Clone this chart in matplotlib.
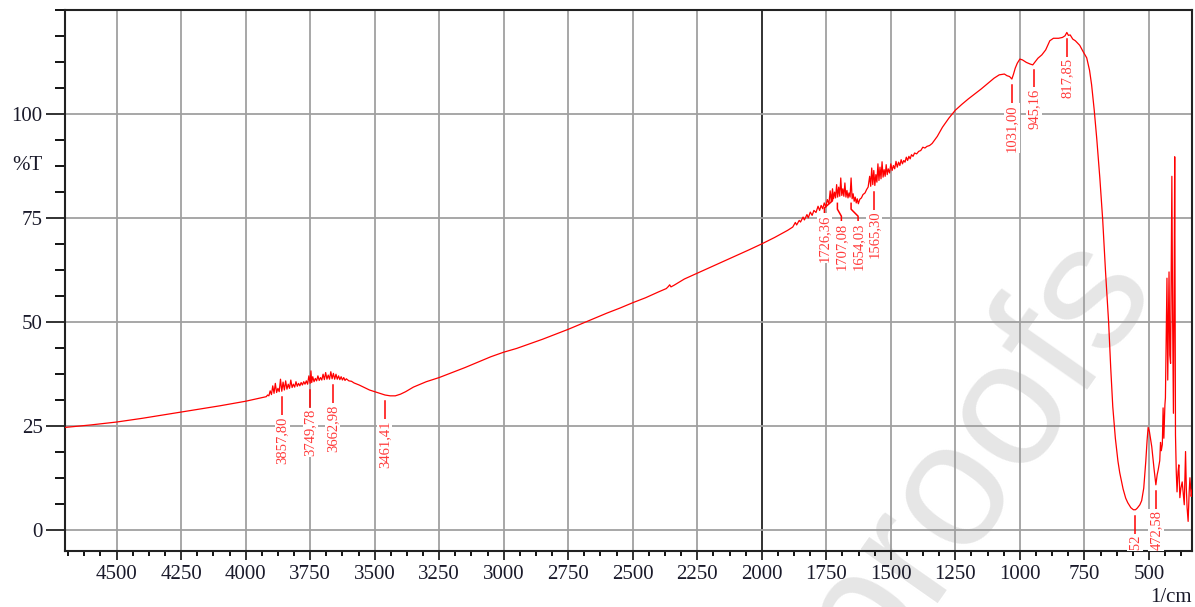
import matplotlib
matplotlib.use('Agg')
import matplotlib.pyplot as plt
import numpy as np
from matplotlib.ticker import MultipleLocator, FixedLocator

# spectrum (1/cm, %T)
wavenumber = [
    4700, 4600, 4500, 4400, 4300, 4200, 4100, 4000, 3950,
    3920, 3915, 3910, 3905, 3900, 3895, 3890, 3885, 3880, 3875, 3870, 3865, 3860, 3855,
    3850, 3845, 3840, 3835, 3830, 3825, 3820, 3815, 3810, 3805, 3800, 3795, 3790, 3785,
    3780, 3775, 3770, 3765, 3760, 3755, 3750, 3747, 3744, 3740, 3735, 3730, 3725, 3720,
    3715, 3710, 3705, 3700, 3695, 3690, 3685, 3680, 3675, 3670, 3665, 3660, 3655, 3650,
    3645, 3640, 3635, 3630, 3625, 3620, 3615, 3610, 3600, 3590, 3580,
    3560, 3540, 3520, 3500, 3480, 3460, 3440, 3420, 3400, 3380, 3350, 3300, 3250, 3200,
    3150, 3100, 3050, 3000, 2950, 2900, 2850, 2800, 2750, 2700, 2650, 2600, 2550, 2500,
    2450, 2400, 2370, 2362, 2357, 2352, 2340, 2300, 2250, 2200, 2150, 2100, 2050, 2000,
    1950, 1900,
    1880, 1870, 1865, 1855, 1850, 1840, 1835, 1825, 1820, 1812, 1805, 1798, 1790, 1782,
    1776, 1770, 1764, 1758, 1752, 1746, 1740, 1735, 1731, 1726, 1722, 1718, 1714, 1710,
    1706, 1702, 1698, 1694, 1690, 1686, 1682, 1678, 1674, 1670, 1666, 1662, 1658, 1654,
    1650, 1646, 1642, 1638, 1634, 1630, 1626, 1620, 1614, 1608, 1600, 1594, 1588, 1582,
    1578, 1574, 1570, 1566, 1562, 1558, 1554, 1550, 1546, 1542, 1538, 1534, 1530, 1526,
    1522, 1518, 1514, 1510, 1505, 1500, 1495, 1490, 1485, 1480, 1475, 1470, 1465, 1460,
    1455, 1450, 1445, 1440, 1435, 1430, 1425, 1420, 1414, 1408, 1400, 1392, 1384, 1376,
    1368, 1360, 1350, 1340,
    1320, 1300, 1275, 1250, 1225, 1200, 1175, 1150, 1125, 1100, 1080, 1060, 1050, 1040,
    1031, 1025, 1018, 1010, 1000, 990, 975, 960, 950, 940, 930, 915, 900, 884,
    870, 850, 835, 825, 818, 812, 805, 795, 785, 768, 755, 741, 730, 722,
    712, 702, 690, 679, 668, 656, 648, 640, 630, 620, 613, 600, 590, 582,
    570, 560, 552, 545, 535, 528, 520, 512, 507, 503, 498, 489, 480, 473,
    468, 464, 458, 455, 452, 448, 445, 442, 438, 436, 430, 427, 422, 419,
    416, 411, 408, 405, 402, 400, 397, 394, 391, 387, 384, 380, 376, 371,
    366, 363, 358, 355, 352, 348, 344, 341, 336, 333,
]
transmittance = [
    24.6, 25.2, 25.9, 26.8, 27.8, 28.8, 29.8, 30.9, 31.6,
    32.0, 32.4, 32.2, 33.4, 32.5, 34.6, 32.8, 35.2, 33.0, 34.0, 33.2, 36.2, 33.3, 35.5,
    33.6, 35.8, 33.8, 35.0, 34.0, 36.0, 34.2, 35.0, 34.3, 35.6, 34.5, 35.2, 34.6, 35.4,
    34.8, 35.6, 35.0, 35.8, 35.0, 37.0, 35.2, 38.2, 35.4, 36.8, 35.6, 36.4, 35.8, 37.0,
    35.9, 36.6, 36.0, 37.4, 36.1, 37.8, 36.2, 37.2, 36.2, 38.0, 36.3, 37.6, 36.2, 37.4,
    36.2, 37.0, 36.1, 36.8, 36.0, 36.6, 35.9, 36.3, 35.8, 35.7, 35.3,
    34.8, 34.2, 33.6, 33.2, 32.8, 32.4, 32.2, 32.2, 32.6, 33.2, 34.3, 35.6, 36.6, 37.8,
    39.0, 40.3, 41.6, 42.7, 43.6, 44.7, 45.8, 47.0, 48.2, 49.5, 50.8, 52.1, 53.3, 54.6,
    55.8, 57.2, 58.0, 58.5, 58.9, 58.4, 58.8, 60.3, 61.7, 63.1, 64.5, 65.9, 67.3, 68.75,
    70.3, 72.0,
    72.8, 73.9, 73.3, 74.4, 74.0, 75.2, 74.5, 75.8, 75.0, 76.4, 75.6, 76.8, 76.3, 77.8,
    76.8, 78.0, 77.2, 78.6, 77.6, 79.4, 78.4, 81.5, 79.0, 82.0, 79.6, 81.2, 79.8, 83.0,
    80.0, 82.4, 80.2, 84.6, 80.4, 82.0, 80.2, 83.4, 80.0, 81.6, 79.8, 81.0, 80.0, 84.6,
    79.6, 80.8, 79.0, 80.0, 78.6, 79.6, 78.4, 79.5, 79.8, 80.6, 81.0, 81.8, 82.4, 85.0,
    82.6, 87.0, 83.0, 86.4, 82.8, 85.4, 83.6, 88.0, 84.0, 87.2, 84.4, 88.5, 84.8, 86.6,
    85.0, 87.8, 85.4, 86.8, 85.8, 88.0, 86.4, 87.6, 86.8, 88.6, 87.2, 88.4, 87.6, 89.0,
    88.0, 88.8, 88.4, 89.6, 88.8, 89.8, 89.2, 90.2, 89.8, 90.6, 90.4, 91.0, 91.2, 92.0,
    91.8, 92.2, 92.4, 92.9,
    94.6, 96.8, 99.0, 100.9, 102.3, 103.6, 104.8, 106.0, 107.3, 108.6, 109.4, 109.6, 109.2, 109.0,
    108.4, 109.5, 111.0, 112.2, 113.2, 113.0, 112.4, 112.0, 111.8, 112.6, 113.4, 114.2, 115.4, 117.6,
    118.2, 118.2, 118.4, 118.8, 119.6, 118.9, 119.0, 118.0, 117.6, 116.5, 115.0, 113.5, 110.5, 107.0,
    101.0, 94.0, 84.5, 74.5, 62.0, 49.8, 39.0, 29.6, 22.0, 16.5, 13.7, 9.8, 7.6, 6.5,
    5.3, 4.8, 4.8, 5.2, 6.0, 7.0, 10.0, 16.5, 21.5, 24.6, 23.6, 20.0, 14.6, 10.8,
    13.2, 14.4, 16.6, 21.0, 19.0, 20.5, 29.3, 22.0, 30.0, 31.7, 60.5, 36.0, 62.0, 42.0,
    40.0, 85.0, 50.0, 28.0, 60.0, 89.7, 22.8, 14.0, 9.1, 14.0, 15.6, 7.7, 10.0, 11.5,
    8.0, 6.0, 18.8, 10.0, 5.3, 2.0, 9.0, 12.5, 8.0, 9.5,
]

# peak labels
peak_wn = [3857.80, 3749.78, 3662.98, 3461.41, 1726.36, 1707.08, 1654.03, 1565.30,
           1031.00, 945.16, 817.85, 553.52, 472.58]
peak_text = ['3857,80', '3749,78', '3662,98', '3461,41', '1726,36', '1707,08', '1654,03',
             '1565,30', '1031,00', '945,16', '817,85', '553,52', '472,58']
# sideways shift (pixels) of crowded labels
label_dx = {1726.36: -8, 1707.08: 4, 1654.03: 7}

serif = 'Liberation Serif'
red = '#ff0000'
lab_red = '#ff3a3a'

fig = plt.figure(figsize=(11.95, 6.07), dpi=100)
ax = fig.add_axes([65 / 1195, 1 - 550.5 / 607, 1127 / 1195, 540.5 / 607])
ax.patch.set_alpha(0)

wn = np.array(wavenumber)
tr = np.array(transmittance)
ax.plot(wn, tr, color=red, lw=0.9, zorder=3)

ax.set_xlim(4700, 333)
ax.set_ylim(-5, 125)

ax.xaxis.set_major_locator(FixedLocator(np.arange(500, 4501, 250)))
ax.xaxis.set_minor_locator(MultipleLocator(62.5))
ax.yaxis.set_major_locator(FixedLocator([0, 25, 50, 75, 100]))
ax.yaxis.set_minor_locator(MultipleLocator(6.25))

ax.grid(True, which='major', color='#a0a0a0', lw=1.3, zorder=1)
ax.set_axisbelow(True)
for gl, v in zip(ax.get_xgridlines(), ax.get_xticks()):
    if v == 2000:
        gl.set_color('#222222')

for s in ax.spines.values():
    s.set_linewidth(1.5)
    s.set_color('#222222')

ax.tick_params(axis='x', which='major', direction='out', length=6.5, width=1.3, pad=4,
               labelsize=15, colors='#222222')
ax.tick_params(axis='x', which='minor', direction='out', length=3.6, width=1.3)
ax.tick_params(axis='y', which='major', direction='out', length=14, width=1.3, pad=2,
               labelsize=15, colors='#222222')
ax.tick_params(axis='y', which='minor', direction='out', length=7, width=1.3)
for lab in ax.get_xticklabels() + ax.get_yticklabels():
    lab.set_fontfamily(serif)
    lab.set_color('#1a1a2a')

ax.annotate('%T', xy=(0, 87.5), xycoords=('axes fraction', 'data'), xytext=(-16.5, 0),
            textcoords='offset points', ha='right', va='center', fontsize=15,
            family=serif, color='#1a1a2a')
fig.text(1192 / 1195, 1 - 598 / 607, '1/cm', ha='right', va='center', fontsize=15,
         family=serif, color='#1a1a2a')

# leaders and labels
wn_per_px = (4700 - 333) / 1127.0
for p, t in zip(peak_wn, peak_text):
    near = tr[np.abs(wn - p) <= 4]
    base = near.min() if len(near) else np.interp(p, wn[::-1], tr[::-1])
    y0 = base - 1.5
    dx = -label_dx.get(p, 0) * wn_per_px
    xs = [p, p, p + dx, p + dx]
    ys = [y0, y0 - 1.4, y0 - 3.1, y0 - 4.3]
    ax.plot(xs, ys, color=red, lw=1.1, zorder=4, clip_on=True)
    ax.text(p + dx, y0 - 4.6, t, rotation=90, ha='center', va='top', fontsize=10.5,
            family=serif, color=lab_red, zorder=5, clip_on=True,
            bbox=dict(facecolor='white', edgecolor='none', pad=0.8))

# journal proof watermark
fig.text(0.815, 0.25, 'proofs', rotation=55, fontsize=128, color='#e6e6e6',
         ha='center', va='center', family='Liberation Sans', zorder=-5)

plt.savefig('out.png', dpi=100)
